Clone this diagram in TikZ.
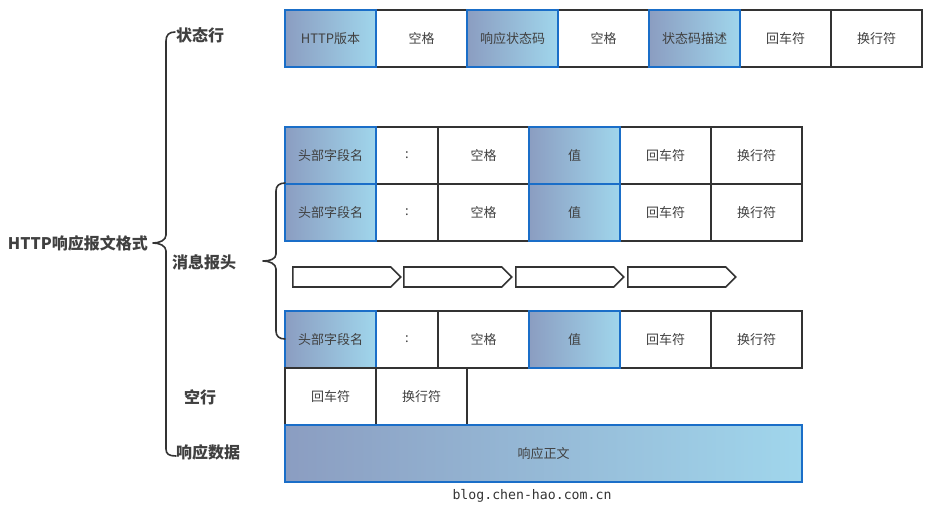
\documentclass[tikz,border=0pt]{standalone}
\usepackage{fontspec}
\setmainfont{Noto Sans CJK SC}
\newfontfamily\monof{DejaVu Sans Mono}
\usetikzlibrary{shapes.symbols}
\definecolor{edge}{HTML}{333333}
\definecolor{blueedge}{HTML}{1A6EC8}
\definecolor{gl}{HTML}{8B9DC1}
\definecolor{gr}{HTML}{A0D6EC}
\definecolor{txt}{HTML}{404040}
\begin{document}
\begin{tikzpicture}[x=1pt,y=-1pt,
  cell/.style={draw=edge, line width=1.6pt, fill=white, minimum height=57pt, inner sep=0pt, outer sep=0pt, anchor=north west, font=\fontsize{13}{15}\selectfont, text=txt},
  grad/.style={cell, draw=blueedge, left color=gl, right color=gr},
  lbl/.style={font=\bfseries\fontsize{16}{18}\selectfont, text=txt, inner sep=0pt},
  brace/.style={draw=edge, line width=1.6pt, line join=round, line cap=round},
  arr/.style={shape=signal, signal to=east, signal pointer angle=90, draw=edge, line width=1.6pt, minimum width=108pt, minimum height=20pt, inner sep=0pt, anchor=west}]
\useasboundingbox (0,0) rectangle (942,522);

% status line
\node[cell, minimum width=91pt] (s2) at (376,10) {空格};
\node[cell, minimum width=91pt] (s4) at (558,10) {空格};
\node[cell, minimum width=91pt] (s6) at (740,10) {回车符};
\node[cell, minimum width=91pt] (s7) at (831,10) {换行符};
\node[grad, minimum width=91pt] (s1) at (285,10) {HTTP版本};
\node[grad, minimum width=91pt] (s3) at (467,10) {响应状态码};
\node[grad, minimum width=91pt] (s5) at (649,10) {状态码描述};

% header rows
\foreach \r/\y in {a/127,b/184,c/311}{
  \node[cell, minimum width=62pt] (\r2) at (376,\y) {:};
  \node[cell, minimum width=91pt] (\r3) at (438,\y) {空格};
  \node[cell, minimum width=91pt] (\r5) at (620,\y) {回车符};
  \node[cell, minimum width=91pt] (\r6) at (711,\y) {换行符};
  \node[grad, minimum width=91pt] (\r1) at (285,\y) {头部字段名};
  \node[grad, minimum width=91pt] (\r4) at (529,\y) {值};
}

% arrows
\node[arr] (p1) at (292,277) {};
\node[arr] (p2) at (403,277) {};
\node[arr] (p3) at (515,277) {};
\node[arr] (p4) at (627,277) {};

% empty line
\node[cell, minimum width=91pt] (e1) at (285,368) {回车符};
\node[cell, minimum width=91pt] (e2) at (376,368) {换行符};

% body
\node[grad, minimum width=517pt] (body) at (285,425) {响应正文};

% labels
\node[lbl, anchor=east] (root) at (148,243) {HTTP响应报文格式};
\node[lbl, anchor=west] (l1) at (176,35) {状态行};
\node[lbl, anchor=west] (l2) at (172,262) {消息报头};
\node[lbl, anchor=west] (l3) at (184,397) {空行};
\node[lbl, anchor=west] (l4) at (176,452) {响应数据};

% main brace
\draw[brace] (175,32) .. controls (169,32) and (166,35) .. (166,41)
  -- (166,235) .. controls (166,240) and (160,243) .. (153,243)
  .. controls (160,243) and (166,246) .. (166,251)
  -- (166,449) .. controls (166,454) and (169,456) .. (176,456);

% header brace
\draw[brace] (285,183) .. controls (279,183) and (276,186) .. (276,191)
  -- (276,254) .. controls (276,259) and (270,261) .. (263,261)
  .. controls (270,261) and (276,264) .. (276,269)
  -- (276,331) .. controls (276,336) and (279,339) .. (285,339);

% watermark
\node[font=\monof\fontsize{13.2}{15}\selectfont, text=edge] (wm) at (532,496) {blog.chen-hao.com.cn};
\end{tikzpicture}
\end{document}
